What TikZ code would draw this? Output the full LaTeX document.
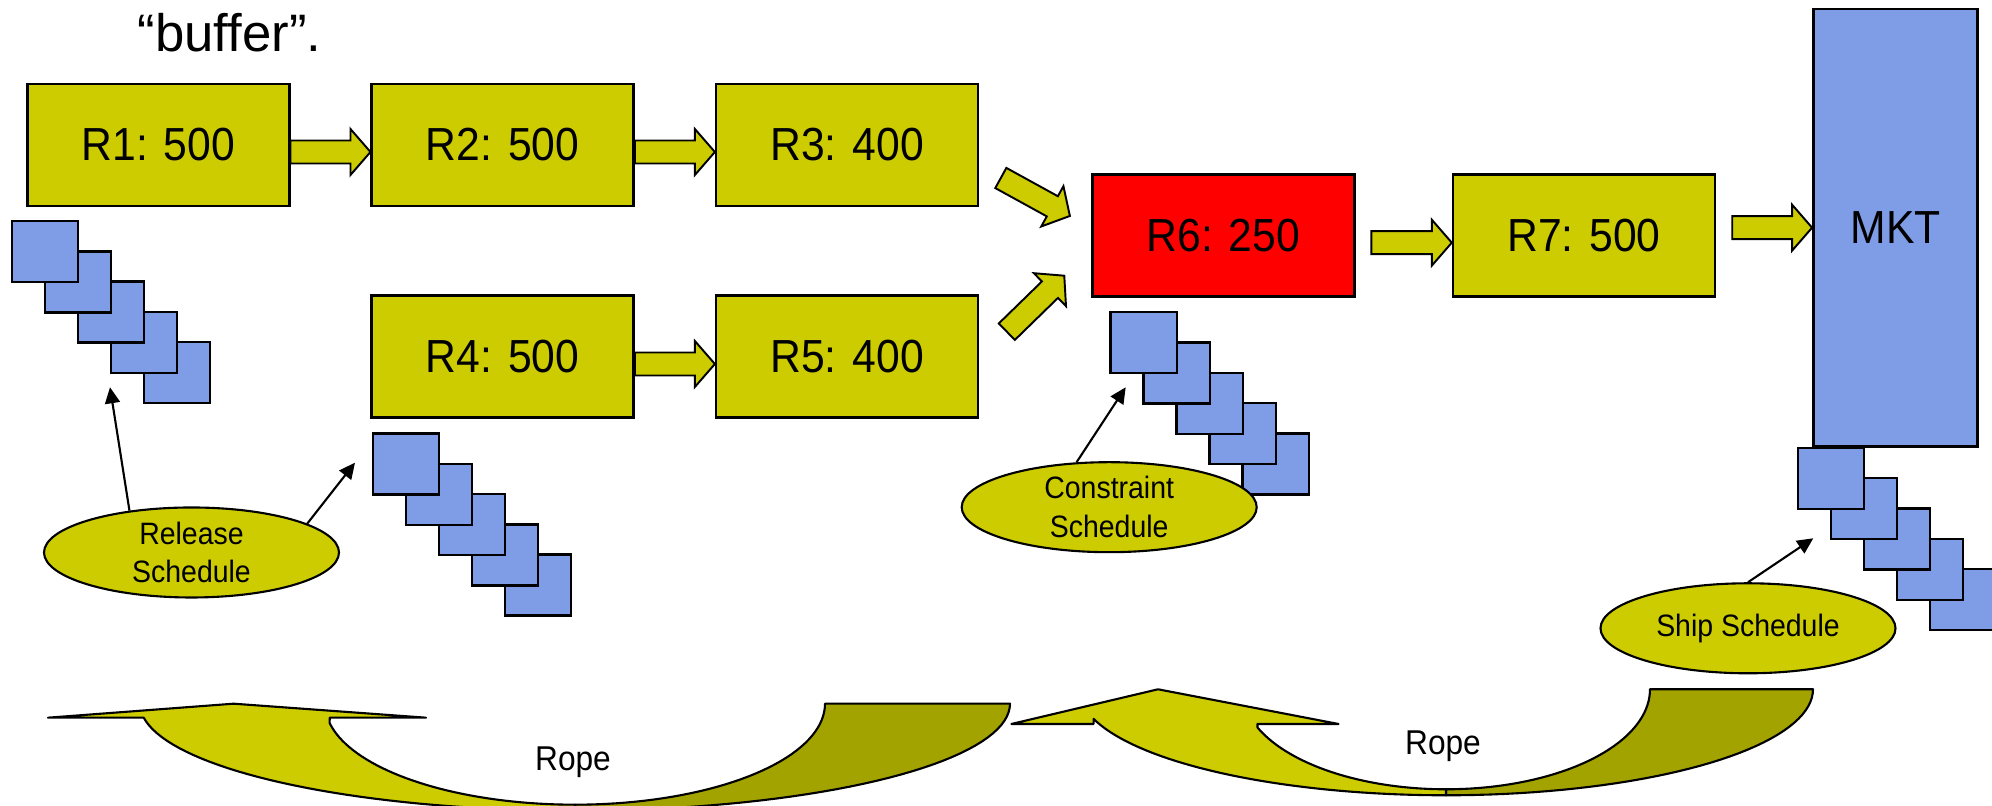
\documentclass[tikz,border=0pt]{standalone}
\usepackage{fontspec}
\setmainfont{Liberation Sans}[FakeStretch=0.92]
\newfontfamily\widesans{Liberation Sans}
\usetikzlibrary{calc,shapes.geometric,arrows.meta}
\definecolor{olivey}{HTML}{CCCC00}
\definecolor{olived}{HTML}{A3A300}
\definecolor{sqblue}{HTML}{7F9DE6}
\newcommand{\blockarr}[3]{%
  \coordinate (#1-a) at #2;
  \coordinate (#1-b) at #3;
  \coordinate (#1-h) at ($(#1-b)!2mm!(#1-a)$);
  \draw[barrow] ($(#1-a)!1.15mm!90:(#1-b)$) -- ($(#1-h)!1.15mm!90:(#1-b)$)
    -- ($(#1-h)!2.3mm!90:(#1-b)$) -- (#1-b) -- ($(#1-h)!2.3mm!-90:(#1-b)$)
    -- ($(#1-h)!1.15mm!-90:(#1-b)$) -- ($(#1-a)!1.15mm!-90:(#1-b)$) -- cycle;
}
\begin{document}
\begin{tikzpicture}[x=0.1mm,y=-0.1mm,
  box/.style={draw=black,line width=0.7pt,fill=olivey,minimum width=26.2mm,minimum height=12.2mm,inner sep=0pt,font=\fontsize{13.2}{15}\selectfont},
  sq/.style={draw=black,line width=0.7pt,fill=sqblue,minimum width=6.63mm,minimum height=6.1mm,inner sep=0pt,anchor=north west},
  sched/.style={ellipse,draw=black,line width=0.6pt,fill=olivey,minimum width=29.5mm,minimum height=9mm,inner sep=0pt,align=center,font=\fontsize{8.8}{11}\selectfont},
  barrow/.style={draw=black,line width=0.55pt,fill=olivey,line join=miter},
  pointer/.style={draw=black,line width=0.6pt,-{Triangle[length=1.6mm,width=1.5mm]}},
  rope/.style={draw=black,line width=0.6pt,line join=round},
  ropetext/.style={font=\fontsize{9.8}{12}\selectfont,anchor=base,inner sep=0pt}]

\useasboundingbox (0,0) rectangle (1992,806);
\fill[white] (0,0) rectangle (1992,806);
\clip (0,0) rectangle (1992,806);

% heading fragment
\node[anchor=base west,inner sep=0pt,font=\widesans\fontsize{15}{18}\selectfont] (buf) at (137,51.7) {“buffer”.};

% resource boxes
\node[box] (R1) at (158.3,145) {R1: 500};
\node[box] (R2) at (502.7,145) {R2: 500};
\node[box] (R3) at (847.1,145) {R3: 400};
\node[box] (R4) at (502.7,356.7) {R4: 500};
\node[box] (R5) at (847.1,356.7) {R5: 400};
\node[box,fill=red] (R6) at (1223.5,235.5) {R6: 250};
\node[box] (R7) at (1584,235.5) {R7: 500};
\node[box,fill=sqblue,minimum width=16.44mm,minimum height=43.77mm] (MKT) at (1895.5,227.8) {MKT};

% buffer stacks
\foreach \s/\bx/\by in {A/10.7/219.8, B/371.7/432.3, C/1109.3/311, D/1796.7/446.7}{
  \foreach \i in {4,3,2,1,0}{
    \node[sq] (\s\i) at ({\bx+33*\i},{\by+30.3*\i}) {};
  }
}

% block arrows
\blockarr{a12}{(R1.east |- 0,152)}{(R2.west |- 0,152)}
\blockarr{a23}{(R2.east |- 0,152)}{(R3.west |- 0,152)}
\blockarr{a45}{(R4.east |- 0,364)}{(R5.west |- 0,364)}
\blockarr{a36}{($(R3.east)+(21.5,33)$)}{($(R6.north west)+(-21.4,42.7)$)}
\blockarr{a56}{($(R5.east)+(27.5,-25)$)}{($(R6.south west)+(-27,-22)$)}
\blockarr{a67}{($(R6.east |- 0,242.7)+(15.7,0)$)}{(R7.west |- 0,242.7)}
\blockarr{a7m}{($(R7.east |- 0,227.7)+(16,0)$)}{(MKT.west |- 0,227.7)}

% schedules
\node[sched] (rel) at (191.5,552.5) {Release\\Schedule};
\node[sched] (con) at (1109.2,507.2) {Constraint\\Schedule};
\node[sched] (ship) at (1748,628.3) {Ship Schedule};

\coordinate (t1) at (110,387.3);
\coordinate (t2) at (355,462.7);
\coordinate (t3) at (1125.7,387.3);
\coordinate (t4) at (1813.3,538.3);
\draw[pointer] (rel.146) -- (t1);
\draw[pointer] (rel.14.5) -- (t2);
\draw[pointer] (con.126.7) -- (t3);
\draw[pointer] (ship.north) -- (t4);

% rope 1
\filldraw[rope,fill=olived] (825,703.7) -- (1010,703.7)
  -- plot[domain=0:90,samples=40,variable=\t] ({575+435*cos(\t)},{703.7+107*sin(\t)})
  -- plot[domain=90:0,samples=40,variable=\t] ({575+250*cos(\t)},{703.7+101*sin(\t)}) -- cycle;
\filldraw[rope,fill=olivey] (143.8,717.7) -- (48,717.7) -- (233.6,703.7) -- (426,717.7) -- (329.7,717.7)
  -- plot[domain=168.9:90,samples=40,variable=\t] ({575+250*cos(\t)},{703.7+101*sin(\t)})
  -- plot[domain=90:172.4,samples=40,variable=\t] ({575+435*cos(\t)},{703.7+107*sin(\t)}) -- cycle;
\node[ropetext] (rope1) at (573,770.7) {Rope};

% rope 2
\filldraw[rope,fill=olived] (1650,689.3) -- (1813,689.3)
  -- plot[domain=0:90,samples=40,variable=\t] ({1446+367*cos(\t)},{689.3+106*sin(\t)})
  -- plot[domain=90:0,samples=40,variable=\t] ({1446+204*cos(\t)},{689.3+100*sin(\t)}) -- cycle;
\filldraw[rope,fill=olivey] (1093.6,724) -- (1011.4,724) -- (1158,689.3) -- (1338.5,724) -- (1257.5,724)
  -- plot[domain=157.5:90,samples=40,variable=\t] ({1446+204*cos(\t)},{689.3+100*sin(\t)})
  -- plot[domain=90:163.8,samples=40,variable=\t] ({1446+367*cos(\t)},{689.3+106*sin(\t)}) -- cycle;
\node[ropetext] (rope2) at (1443,754.3) {Rope};
\end{tikzpicture}
\end{document}
